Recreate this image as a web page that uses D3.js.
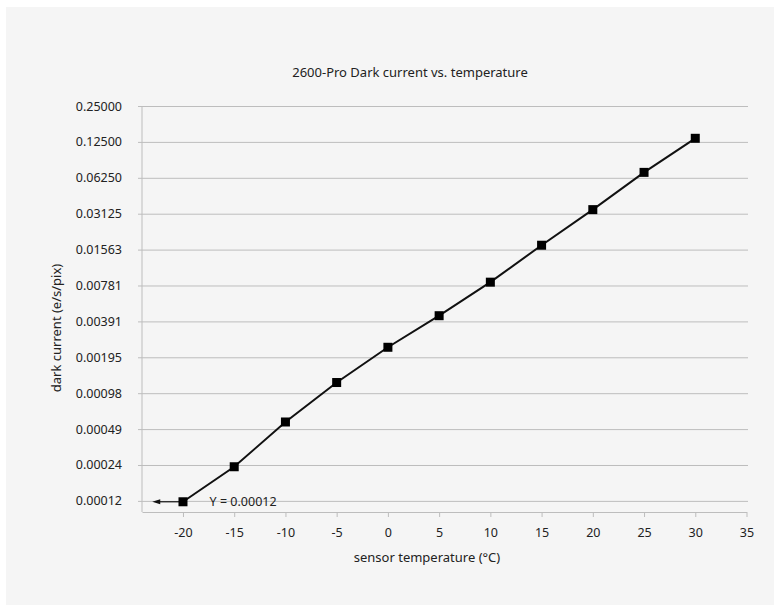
<!DOCTYPE html>
<html><head><meta charset="utf-8">
<script src="https://cdn.jsdelivr.net/npm/d3@7"></script>
<style>
html,body{margin:0;padding:0;background:#fff;}
svg{display:block;}
text{font-family:"Noto Sans",sans-serif;fill:#222;}
</style></head>
<body>
<script>
const temperatures = [-20, -15, -10, -5, 0, 5, 10, 15, 20, 25, 30];
const darkCurrent = [0.00012, 0.000236, 0.00056, 0.0012, 0.00237, 0.00436, 0.00833, 0.0170, 0.0338, 0.0694, 0.134];
const yTickValues = [0.25, 0.125, 0.0625, 0.03125, 0.015625, 0.0078125, 0.00390625, 0.001953125, 0.0009765625, 0.00048828125, 0.000244140625, 0.0001220703125];
const yTickLabels = ["0.25000","0.12500","0.06250","0.03125","0.01563","0.00781","0.00391","0.00195","0.00098","0.00049","0.00024","0.00012"];
const xTickValues = [-20, -15, -10, -5, 0, 5, 10, 15, 20, 25, 30, 35];
const xTickLabels = ["-20","-15","-10","-5","0","5","10","15","20","25","30","35"];
const titleText = "2600-Pro Dark current vs. temperature";
const xTitle = "sensor temperature (°C)";
const yTitle = "dark current (e/s/pix)";
const annotationText = "Y = 0.00012";

const W = 777, H = 607;
const svg = d3.select("body").append("svg").attr("width", W).attr("height", H);
svg.append("rect").attr("x", 6).attr("y", 7).attr("width", 768).attr("height", 598).attr("fill", "#f5f5f5");

const x = d3.scaleLinear().domain([-24, 35]).range([142, 746.5]);
const y = d3.scaleLog().base(2).domain([0.0000985, 0.25]).range([512, 106]);

// gridlines + y ticks
const yAxis = d3.axisLeft(y).tickValues(yTickValues).tickSize(0).tickFormat((d, i) => yTickLabels[i]);
const gy = svg.append("g").attr("transform", "translate(138,0)").call(yAxis);
gy.select(".domain").remove();
gy.selectAll(".tick text").attr("x", -16).style("font-size", "12.5px").style("font-family", "Noto Sans").attr("fill", "#222");
gy.selectAll(".tick").append("line").attr("x1", 0).attr("x2", 748 - 138).attr("stroke", "#bdbdbd").attr("stroke-width", 1);

// axis lines
svg.append("line").attr("x1", 142).attr("x2", 142).attr("y1", 106).attr("y2", 512).attr("stroke", "#bdbdbd");
const xAxis = d3.axisBottom(x).tickValues(xTickValues).tickSize(5).tickSizeOuter(0).tickFormat((d, i) => xTickLabels[i]);
const gx = svg.append("g").attr("transform", "translate(0,512)").call(xAxis);
gx.select(".domain").attr("stroke", "#bdbdbd");
gx.selectAll(".tick line").attr("stroke", "#bdbdbd");
gx.selectAll(".tick text").attr("y", 16).style("font-size", "12.5px").style("font-family", "Noto Sans").attr("fill", "#222");

// line
const pts = temperatures.map((t, i) => [t, darkCurrent[i]]);
svg.append("path").datum(pts)
  .attr("d", d3.line().x(d => x(d[0])).y(d => y(d[1])))
  .attr("fill", "none").attr("stroke", "#111").attr("stroke-width", 2);

// annotation arrow
const ax0 = x(temperatures[0]), ay0 = y(darkCurrent[0]);
svg.append("line").attr("x1", ax0).attr("x2", x(-22.5)).attr("y1", ay0).attr("y2", ay0).attr("stroke", "#111").attr("stroke-width", 1.2);
svg.append("path").attr("d", `M${x(-23)},${ay0} l8,-2.5 l0,5 z`).attr("fill", "#111");
svg.append("text").attr("x", x(-17.4)).attr("y", ay0 + 4.5).style("font-size", "12.5px").text(annotationText);

// markers
svg.selectAll("rect.m").data(pts).enter().append("rect").attr("class", "m")
  .attr("x", d => x(d[0]) - 4.5).attr("y", d => y(d[1]) - 4.5)
  .attr("width", 9).attr("height", 9).attr("fill", "#000");

// titles
svg.append("text").attr("x", 410).attr("y", 77).attr("text-anchor", "middle").style("font-size", "13px").text(titleText);
svg.append("text").attr("x", 427).attr("y", 562).attr("text-anchor", "middle").style("font-size", "13px").text(xTitle);
svg.append("text").attr("transform", "translate(61,328) rotate(-90)").attr("text-anchor", "middle").style("font-size", "13px").text(yTitle);
</script>
</body></html>
